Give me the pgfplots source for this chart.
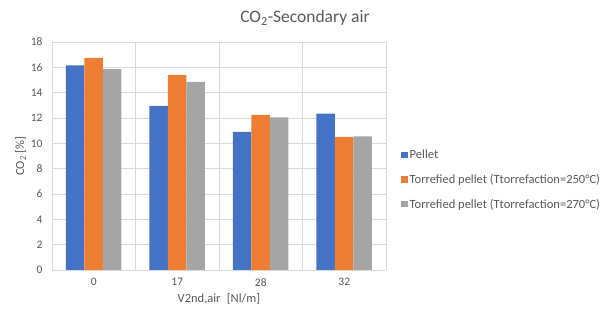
\documentclass[border=0pt]{standalone}
\usepackage{pgfplots}
\pgfplotsset{compat=1.18}
\usepackage{fontspec}
\setmainfont{Carlito}
\definecolor{cblue}{HTML}{4472C4}
\definecolor{corange}{HTML}{ED7D31}
\definecolor{cgray}{HTML}{A5A5A5}
\definecolor{txt}{HTML}{595959}
\definecolor{gridc}{HTML}{D9D9D9}
\begin{document}
\begin{tikzpicture}
\useasboundingbox (-52pt,-50pt) rectangle (548pt,270pt);
\begin{axis}[
    at={(0,0)}, anchor=south west,
    scale only axis, width=334pt, height=228pt,
    ybar=0pt, bar width=18.5pt,
    xmin=-0.5, xmax=3.5, ymin=0, ymax=18,
    xtick={0,1,2,3}, xticklabels={0,17,28,32},
    ytick={0,2,...,18},
    minor xtick={-0.5,0.5,1.5,2.5,3.5},
    xminorgrids=true, ymajorgrids=true, xmajorgrids=false,
    grid style={gridc, line width=0.8pt},
    minor grid style={gridc, line width=0.8pt},
    axis line style={draw=none},
    tick style={draw=none},
    major tick length=0pt, minor tick length=0pt,
    ticklabel style={font=\fontsize{11.5}{13}\selectfont, text=txt},
    yticklabel style={xshift=-6pt},
    xticklabel style={yshift=-5pt},
    /pgf/number format/assume math mode=true,
    xlabel={V2nd,air\enspace[Nl/m]},
    ylabel={CO\textsubscript{2} [\%]},
    label style={font=\fontsize{12.5}{14}\selectfont, text=txt},
    xlabel style={yshift=0pt},
    ylabel style={yshift=-2pt},
    legend style={at={(1.045,0.395)}, anchor=west, draw=none,
        font=\fontsize{12.5}{14}\selectfont, text=txt,
        row sep=10pt, inner sep=0pt},
    legend cell align=left,
    legend image code/.code={\fill[#1] (0pt,-3pt) rectangle (6.5pt,3.5pt);},
    clip=false,
]
\addplot[fill=cblue, draw=none] coordinates {(0,16.15) (1,12.95) (2,10.9) (3,12.35)};
\addplot[fill=corange, draw=none] coordinates {(0,16.75) (1,15.4) (2,12.25) (3,10.5)};
\addplot[fill=cgray, draw=none] coordinates {(0,15.85) (1,14.85) (2,12.05) (3,10.55)};
\legend{Pellet,
  Torrefied pellet (Ttorrefaction=250°C),
  Torrefied pellet (Ttorrefaction=270°C)}
\end{axis}
\node[text=txt, font=\fontsize{17.5}{20}\selectfont] at (253pt,252pt) {CO\textsubscript{2}-Secondary air};
\end{tikzpicture}
\end{document}
